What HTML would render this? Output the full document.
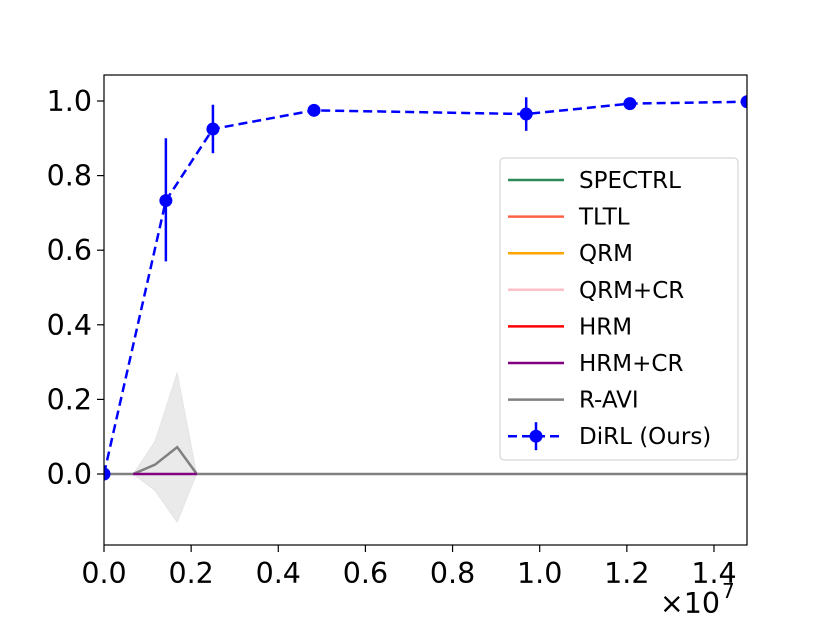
<!DOCTYPE html>
<html><head><meta charset="utf-8"><style>
body{margin:0;background:#fff;}
text{font-family:"DejaVu Sans","Liberation Sans",sans-serif;}
</style></head><body>
<svg id="chart" width="830" height="623" xmlns="http://www.w3.org/2000/svg">
<defs><clipPath id="axclip"><rect x="104" y="75" width="643" height="470"/></clipPath></defs>
<g id="plot"></g>
</svg>
<script>
const xTicks=[0,0.2,0.4,0.6,0.8,1.0,1.2,1.4];
const yTicks=[0.0,0.2,0.4,0.6,0.8,1.0];
const dirlX=[0,0.142,0.25,0.482,0.969,1.207,1.476];
const dirlY=[0,0.733,0.925,0.975,0.965,0.993,0.998];
const dirlLo=[0,0.57,0.86,0.96,0.92,0.985,0.995];
const dirlHi=[0,0.90,0.99,0.99,1.01,1.0,1.0];
const raviX=[0,0.067,0.117,0.168,0.213,1.476];
const raviY=[0,0,0.025,0.072,0,0];
const raviLo=[0,0,-0.045,-0.13,0,0];
const raviHi=[0,0,0.088,0.273,0,0];
const hrmcrX=[0.067,0.213];
const hrmcrY=[0,0];
const legendNames=["SPECTRL","TLTL","QRM","QRM+CR","HRM","HRM+CR","R-AVI","DiRL (Ours)"];
const legendColors=["#2e8b57","#ff6347","#ffa500","#ffc0cb","#ff0000","#800080","#808080","#0000ff"];

const L=104,R=747,T=75,B=545;
const sx=v=>L+v*435.7;
const sy=v=>474-v*373;
const root=document.getElementById('plot');
const NS="http://www.w3.org/2000/svg";
function mk(tag,attrs,parent){const e=document.createElementNS(NS,tag);for(const k in attrs)e.setAttribute(k,attrs[k]);(parent||root).appendChild(e);return e;}

const g=mk('g',{'clip-path':'url(#axclip)'});
let pts=raviX.map((x,i)=>sx(x)+","+sy(raviHi[i])).concat(raviX.map((x,i)=>sx(x)+","+sy(raviLo[i])).reverse());
let band=mk('polygon',{points:pts.join(' '),fill:'#808080','fill-opacity':0.17,stroke:'#808080','stroke-opacity':0.1},g);


let base=mk('line',{x1:L,x2:R,y1:sy(0),y2:sy(0),stroke:'#2e8b57','stroke-width':2},g);


let ravi=mk('polyline',{points:raviX.map((x,i)=>sx(x)+","+sy(raviY[i])).join(' '),fill:'none',stroke:'#808080','stroke-width':2.5},g);


let hr=mk('polyline',{points:hrmcrX.map((x,i)=>sx(x)+","+sy(hrmcrY[i])).join(' '),fill:'none',stroke:'#800080','stroke-width':2.5},g);


let dl=mk('polyline',{points:dirlX.map((x,i)=>sx(x)+","+sy(dirlY[i])).join(' '),fill:'none',stroke:'#0000ff','stroke-width':2.5,'stroke-dasharray':'9,5'},g);


dirlX.forEach((x,i)=>{
  let eb=mk('line',{x1:sx(x),x2:sx(x),y1:sy(dirlLo[i]),y2:sy(dirlHi[i]),stroke:'#0000ff','stroke-width':2.5},g);
  
  
  let c=mk('circle',{cx:sx(x),cy:sy(dirlY[i]),r:6.5,fill:'#0000ff'},g);
  
  
});
let fr=mk('rect',{x:L,y:T,width:R-L,height:B-T,fill:'none',stroke:'#000','stroke-width':1.2});


xTicks.forEach(v=>{
  mk('line',{x1:sx(v),x2:sx(v),y1:B,y2:B+7,stroke:'#000','stroke-width':1.2});
  let t=mk('text',{x:sx(v),y:B+38,'font-size':28.5,'text-anchor':'middle'});t.textContent=v.toFixed(1);
  
  
});
yTicks.forEach(v=>{
  mk('line',{x1:L-7,x2:L,y1:sy(v),y2:sy(v),stroke:'#000','stroke-width':1.2});
  let t=mk('text',{x:L-12,y:sy(v)+10,'font-size':28.5,'text-anchor':'end'});t.textContent=v.toFixed(1);
  
  
});
let ex=mk('text',{x:720,y:613,'font-size':28.5,'text-anchor':'end'});ex.textContent='×10';


let ex2=mk('text',{x:722,y:598,'font-size':20});ex2.textContent='7';


let lg=mk('g',{});


mk('rect',{x:500,y:158,width:238,height:302,rx:4,fill:'#fff','fill-opacity':0.8,stroke:'#ccc'},lg);
legendNames.forEach((n,i)=>{
  const y=180+i*36.6;
  const e=mk('g',{},lg);
  
  
  mk('line',{x1:508,x2:564,y1:y,y2:y,stroke:legendColors[i],'stroke-width':2.5,'stroke-dasharray':i==7?'9,5':'none'},e);
  if(i==7){mk('circle',{cx:536,cy:y,r:6.5,fill:'#0000ff'},e);mk('line',{x1:536,x2:536,y1:y-14,y2:y+14,stroke:'#0000ff','stroke-width':2.5},e);}
  const t=mk('text',{x:579,y:y+8,'font-size':23},e);t.textContent=n;
});
</script>
</body></html>
